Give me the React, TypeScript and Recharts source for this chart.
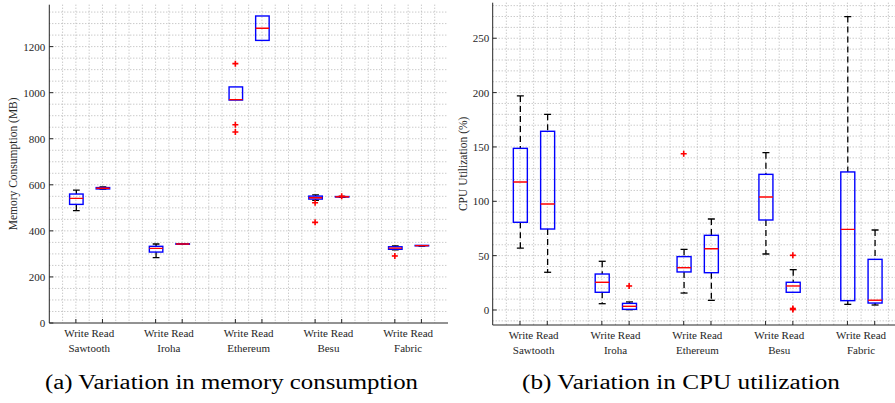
import React from 'react';
import { ComposedChart, Bar, Scatter, XAxis, YAxis, CartesianGrid } from 'recharts';

// ---------- data ----------
const platforms = ['Sawtooth', 'Iroha', 'Ethereum', 'Besu', 'Fabric'];
const opPairLabel = 'Write Read';
// box order: Sawtooth W, R, Iroha W, R, Ethereum W, R, Besu W, R, Fabric W, R
const boxPositions = [1, 2, 4, 5, 7, 8, 10, 11, 13, 14];

// (a) memory consumption (MB)
const memMin = [488, 581, 284, 341, 968, 1227, 532, 546, 318, 334];
const memQ1 = [515, 582, 308, 342, 968, 1227, 538, 547, 320, 335];
const memMed = [541, 585, 324, 343, 970, 1280, 544, 548, 325, 336];
const memQ3 = [560, 588, 333, 344, 1025, 1333, 551, 549, 331, 337];
const memMax = [577, 591, 343, 345, 1025, 1333, 556, 550, 335, 337];
const memOutlierPos = [7, 7, 7, 10, 10, 11, 13];
const memOutlierVal = [1126, 861, 829, 522, 437, 550, 291];
const memYTicks = [0, 200, 400, 600, 800, 1000, 1200];
const memYDomain = [0, 1382];

// (b) CPU utilization (%)
const cpuMin = [57.0, 34.7, 5.8, 0.3, 15.6, 8.9, 51.5, 16.3, 5.2, 4.6];
const cpuQ1 = [80.7, 74.5, 16.3, 0.6, 35.0, 34.3, 82.8, 16.3, 8.6, 6.4];
const cpuMed = [117.8, 97.5, 25.5, 3.4, 38.9, 56.4, 104.0, 22.1, 74.2, 9.0];
const cpuQ3 = [148.7, 164.4, 33.1, 6.1, 49.1, 68.7, 124.8, 25.5, 127.0, 46.6];
const cpuMax = [196.9, 180.0, 44.8, 7.4, 55.8, 83.7, 144.7, 37.1, 269.9, 73.6];
const cpuOutlierPos = [5, 7, 11, 11, 11];
const cpuOutlierVal = [22.1, 143.8, 50.3, 0.4, 1.4];
const cpuYTicks = [0, 50, 100, 150, 200, 250];
const cpuYDomain = [-13.8, 282.7];

const xDomain = [0, 15];
const captionA = '(a) Variation in memory consumption';
const captionB = '(b) Variation in CPU utilization';
const memYLabel = 'Memory Consumption (MB)';
const cpuYLabel = 'CPU Utilization (%)';

// ---------- derived tables ----------
const groupCenters = platforms.map((_, g) => (boxPositions[2 * g] + boxPositions[2 * g + 1]) / 2);

function buildBoxes(mins: number[], q1s: number[], meds: number[], q3s: number[], maxs: number[]) {
  return boxPositions.map((pos, i) => ({ pos, min: mins[i], q1: q1s[i], med: meds[i], q3: q3s[i], max: maxs[i] }));
}
function buildOutliers(pos: number[], vals: number[]) {
  return pos.map((p, i) => ({ pos: p, val: vals[i] }));
}
function gridSteps(from: number, to: number, step: number) {
  const out: number[] = [];
  for (let k = 0; from + k * step <= to + 1e-9; k++) out.push(+(from + k * step).toFixed(6));
  return out;
}

const memBoxes = buildBoxes(memMin, memQ1, memMed, memQ3, memMax);
const cpuBoxes = buildBoxes(cpuMin, cpuQ1, cpuMed, cpuQ3, cpuMax);
const memOutliers = buildOutliers(memOutlierPos, memOutlierVal);
const cpuOutliers = buildOutliers(cpuOutlierPos, cpuOutlierVal);

// ---------- styles ----------
const AXIS = '#262626';
const GRID = '#b4b4b4';
const BLUE = '#0000ff';
const RED = '#ff0000';
const FONT = '"Liberation Serif", "Times New Roman", serif';
const TICK_LEN = 4;

function BoxShape(props: any) {
  const { x, y, width, height, payload } = props;
  if (!payload || x == null || y == null) return null;
  const top = Math.min(y, y + height);
  const bottom = Math.max(y, y + height);
  const { min, q1, med, q3, max } = payload;
  const span = max - min || 1;
  const py = (v: number) => bottom - ((v - min) / span) * (bottom - top);
  const cx = x + width / 2;
  const cap = width / 4;
  const yMax = py(max), yQ3 = py(q3), yMed = py(med), yQ1 = py(q1), yMin = py(min);
  return (
    <g>
      {max > q3 && (
        <g>
          <line x1={cx} x2={cx} y1={yMax} y2={yQ3} stroke="#000" strokeWidth={1.3} strokeDasharray="6 4" />
          <line x1={cx - cap} x2={cx + cap} y1={yMax} y2={yMax} stroke="#000" strokeWidth={1.3} />
        </g>
      )}
      {q1 > min && (
        <g>
          <line x1={cx} x2={cx} y1={yQ1} y2={yMin} stroke="#000" strokeWidth={1.3} strokeDasharray="6 4" />
          <line x1={cx - cap} x2={cx + cap} y1={yMin} y2={yMin} stroke="#000" strokeWidth={1.3} />
        </g>
      )}
      <rect x={x} y={yQ3} width={width} height={Math.max(yQ1 - yQ3, 0)} fill="none" stroke={BLUE} strokeWidth={1.4} />
      <line x1={x} x2={x + width} y1={yMed} y2={yMed} stroke={RED} strokeWidth={1.4} />
    </g>
  );
}

function PlusShape(props: any) {
  const { cx, cy } = props;
  if (cx == null || cy == null) return null;
  const r = 3;
  return (
    <g stroke={RED} strokeWidth={1.6}>
      <line x1={cx - r} x2={cx + r} y1={cy} y2={cy} />
      <line x1={cx} x2={cx} y1={cy - r} y2={cy + r} />
    </g>
  );
}

function BottomTick(props: any) {
  const { x, y, payload } = props;
  const v = payload.value;
  const gi = groupCenters.indexOf(v);
  if (gi >= 0) {
    return (
      <g fontFamily={FONT} fontSize={11} fill={AXIS} textAnchor="middle">
        <text x={x} y={y + 10} dominantBaseline="central">{opPairLabel}</text>
        <text x={x} y={y + 24.5} dominantBaseline="central">{platforms[gi]}</text>
      </g>
    );
  }
  return <line x1={x} x2={x} y1={y} y2={y - TICK_LEN} stroke={AXIS} strokeWidth={1} />;
}
function TopTick(props: any) {
  const { x, y } = props;
  return <line x1={x} x2={x} y1={y} y2={y + TICK_LEN} stroke={AXIS} strokeWidth={1} />;
}
function makeLeftTick(dx: number) {
  return (props: any) => {
    const { x, y, payload } = props;
    return (
      <g>
        <line x1={x} x2={x + TICK_LEN} y1={y} y2={y} stroke={AXIS} strokeWidth={1} />
        <text x={x - dx} y={y} textAnchor="end" dominantBaseline="central" fontFamily={FONT} fontSize={11} fill={AXIS}>
          {payload.value}
        </text>
      </g>
    );
  };
}
function RightTick(props: any) {
  const { x, y } = props;
  return <line x1={x} x2={x - TICK_LEN} y1={y} y2={y} stroke={AXIS} strokeWidth={1} />;
}

function BoxChart(p: any) {
  const bottomTicks = [...boxPositions, ...groupCenters].sort((a, b) => a - b);
  const labelContent = (lp: any) => {
    const vb = lp.viewBox || {};
    const lx = (vb.x || 0) + p.yLabelX;
    const ly = (vb.y || 0) + (vb.height || 0) / 2;
    return (
      <text x={lx} y={ly} transform={`rotate(-90 ${lx} ${ly})`} textAnchor="middle" dominantBaseline="central"
        fontFamily={FONT} fontSize={11.5} fill={AXIS}>{p.yLabel}</text>
    );
  };
  return (
    <div style={{ position: 'absolute', left: p.left, top: 0 }}>
      <ComposedChart width={p.width} height={p.height} data={p.data}
        margin={{ top: p.marginTop, right: p.marginRight, left: 0, bottom: 0 }}>
        <CartesianGrid xAxisId="b" yAxisId="l" horizontalValues={p.hGrid} verticalValues={p.vGrid}
          stroke={GRID} strokeDasharray="1 2" strokeWidth={1} />
        <XAxis xAxisId="b" dataKey="pos" type="number" domain={xDomain} ticks={bottomTicks} interval={0}
          allowDataOverflow orientation="bottom" height={p.xAxisHeight} tickSize={0} tickMargin={0}
          axisLine={{ stroke: AXIS, strokeWidth: 1 }} tickLine={false} tick={BottomTick} />
        <XAxis xAxisId="t" dataKey="pos" type="number" domain={xDomain} ticks={boxPositions} interval={0}
          allowDataOverflow orientation="top" height={0} tickSize={0} tickMargin={0}
          axisLine={{ stroke: AXIS, strokeWidth: 1 }} tickLine={false} tick={TopTick} />
        <YAxis yAxisId="l" type="number" domain={p.yDomain} ticks={p.yTicks} interval={0} allowDataOverflow
          width={p.yAxisWidth} tickSize={0} tickMargin={0} axisLine={{ stroke: AXIS, strokeWidth: 1 }}
          tickLine={false} tick={makeLeftTick(p.tickDx)} label={{ content: labelContent }} />
        <YAxis yAxisId="r" orientation="right" type="number" domain={p.yDomain} ticks={p.yTicks} interval={0}
          allowDataOverflow width={0} tickSize={0} tickMargin={0} axisLine={{ stroke: AXIS, strokeWidth: 1 }}
          tickLine={false} tick={RightTick} />
        <Bar xAxisId="b" yAxisId="l" dataKey={(d: any) => [d.min, d.max]} barSize={p.barSize}
          shape={<BoxShape />} isAnimationActive={false} />
        <Scatter xAxisId="b" yAxisId="l" data={p.outliers} dataKey="val" shape={<PlusShape />}
          isAnimationActive={false} />
      </ComposedChart>
    </div>
  );
}

export default function App() {
  const vGrid = gridSteps(0.5, 14.5, 0.5);
  return (
    <div style={{ position: 'absolute', left: 0, top: 0, width: 895, height: 403, overflow: 'hidden', background: '#fff' }}>
      <BoxChart left={0} width={460} height={355} marginTop={4.7} marginRight={12} yAxisWidth={49.3}
        xAxisHeight={32} data={memBoxes} outliers={memOutliers} yDomain={memYDomain} yTicks={memYTicks}
        hGrid={gridSteps(50, 1350, 50)} vGrid={vGrid} yLabel={memYLabel} yLabelX={13.5} tickDx={4}
        barSize={13.5} />
      <BoxChart left={440} width={472} height={355} marginTop={2.7} marginRight={10} yAxisWidth={52.7}
        xAxisHeight={30} data={cpuBoxes} outliers={cpuOutliers} yDomain={cpuYDomain} yTicks={cpuYTicks}
        hGrid={gridSteps(-10, 280, 10)} vGrid={vGrid} yLabel={cpuYLabel} yLabelX={23.5} tickDx={3.5}
        barSize={14} />
      <svg width={895} height={403} style={{ position: 'absolute', left: 0, top: 0, pointerEvents: 'none' }}>
        <text x={231.5} y={389} textAnchor="middle" fontFamily={FONT} fontSize={20} fill="#000"
          textLength={373} lengthAdjust="spacingAndGlyphs">{captionA}</text>
        <text x={681} y={389} textAnchor="middle" fontFamily={FONT} fontSize={20} fill="#000"
          textLength={318} lengthAdjust="spacingAndGlyphs">{captionB}</text>
      </svg>
    </div>
  );
}
